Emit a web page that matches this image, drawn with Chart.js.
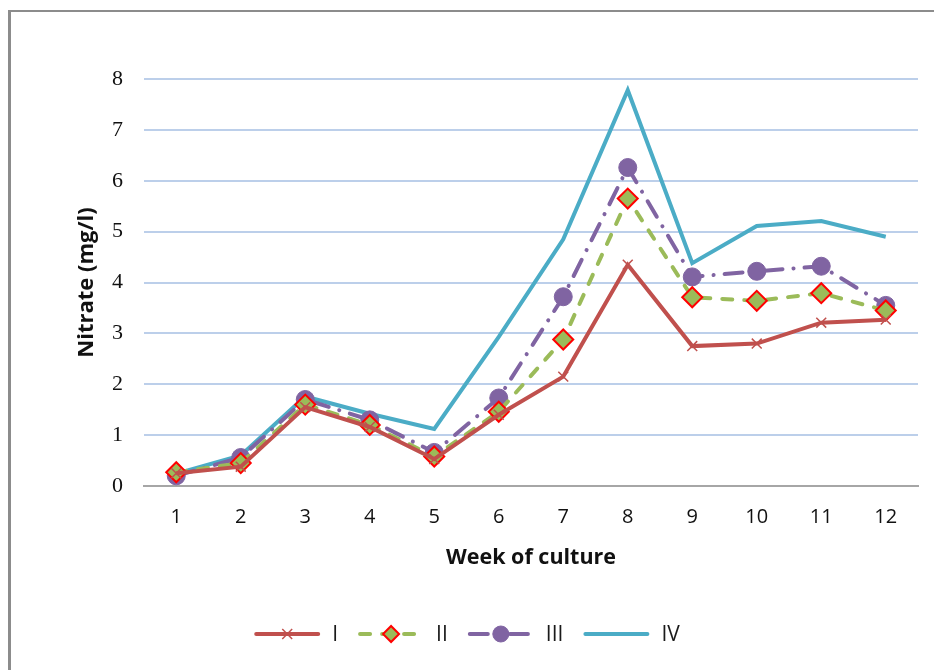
<!DOCTYPE html>
<html>
<head>
<meta charset="utf-8">
<script src="https://cdn.jsdelivr.net/npm/chart.js@4.4.1/dist/chart.umd.min.js"></script>
<style>
  html, body { margin: 0; padding: 0; background: #fff; overflow: hidden; }
  #wrap { position: relative; width: 934px; height: 670px; }
  #frame { position: absolute; left: 8px; top: 10px; width: 1000px; height: 1000px;
           border-left: 3px solid #8c8c8c; border-top: 2px solid #8c8c8c; box-sizing: border-box; }
  #c { position: absolute; left: 0; top: 0; }
</style>
</head>
<body>
<div id="wrap">
  <div id="frame"></div>
  <canvas id="c" width="934" height="670"></canvas>
</div>
<script>
// Weekly nitrate concentration (mg/l) for four culture treatments
const weeks = ['1', '2', '3', '4', '5', '6', '7', '8', '9', '10', '11', '12'];
const seriesI   = [0.25, 0.38, 1.55, 1.16, 0.53, 1.40, 2.15, 4.35, 2.75, 2.80, 3.21, 3.27];
const seriesII  = [0.27, 0.45, 1.60, 1.20, 0.58, 1.46, 2.88, 5.65, 3.71, 3.64, 3.79, 3.45];
const seriesIII = [0.20, 0.56, 1.70, 1.30, 0.66, 1.73, 3.72, 6.26, 4.11, 4.22, 4.32, 3.55];
const seriesIV  = [0.24, 0.60, 1.76, 1.42, 1.12, 2.93, 4.85, 7.78, 4.38, 5.11, 5.21, 4.90];
const yTicks = [0, 1, 2, 3, 4, 5, 6, 7, 8];

const RED = '#C0504D', GREEN = '#9BBB59', PURPLE = '#8064A2', TEAL = '#4BACC6';

const datasets = [
  { label: 'I', data: seriesI, borderColor: RED, backgroundColor: RED, borderWidth: 4,
    pointStyle: 'crossRot', pointRadius: 7, pointBorderWidth: 1.5, pointBorderColor: RED },
  { label: 'II', data: seriesII, borderColor: GREEN, backgroundColor: GREEN, borderWidth: 4,
    borderDash: [10, 12], borderCapStyle: 'round',
    pointStyle: 'rectRot', pointRadius: 10, pointBorderWidth: 2, pointBorderColor: '#FF0000',
    pointBackgroundColor: GREEN },
  { label: 'III', data: seriesIII, borderColor: PURPLE, backgroundColor: PURPLE, borderWidth: 4,
    borderDash: [18, 11, 0.1, 11], borderCapStyle: 'round',
    pointStyle: 'circle', pointRadius: 9, pointBorderWidth: 1, pointBorderColor: PURPLE,
    pointBackgroundColor: PURPLE },
  { label: 'IV', data: seriesIV, borderColor: TEAL, backgroundColor: TEAL, borderWidth: 4,
    pointRadius: 0, pointHoverRadius: 0 }
];
datasets.forEach(d => { d.tension = 0; d.fill = false; d.borderJoinStyle = 'miter'; });

// Legend drawn below the plot: a line sample with its marker, then the label
const lineLegend = {
  id: 'lineLegend',
  afterDraw(chart) {
    const ctx = chart.ctx;
    const y = 634, lineLen = 66, labelGap = 12, itemGap = 20;
    ctx.save();
    ctx.font = '21px "Open Sans", sans-serif';
    const items = chart.data.datasets.map(ds => ({ ds, w: ctx.measureText(ds.label).width }));
    const total = items.reduce((s, it) => s + lineLen + labelGap + it.w, 0) + itemGap * (items.length - 1);
    let x = (chart.width - total) / 2;
    items.forEach(({ ds, w }) => {
      ctx.save();
      ctx.strokeStyle = ds.borderColor;
      ctx.lineWidth = ds.borderWidth;
      ctx.lineCap = 'round';
      ctx.setLineDash(ds.borderDash || []);
      ctx.beginPath();
      ctx.moveTo(x + 2, y);
      ctx.lineTo(x + lineLen - 2, y);
      ctx.stroke();
      ctx.restore();
      if (ds.pointRadius > 0) {
        ctx.save();
        ctx.fillStyle = ds.pointBackgroundColor || ds.borderColor;
        ctx.strokeStyle = ds.pointBorderColor || ds.borderColor;
        ctx.lineWidth = ds.pointBorderWidth;
        Chart.helpers.drawPoint(ctx, {
          pointStyle: ds.pointStyle,
          radius: Math.min(ds.pointRadius, 8),
          borderWidth: ds.pointBorderWidth
        }, x + lineLen / 2, y);
        ctx.restore();
      }
      ctx.fillStyle = '#1a1a1a';
      ctx.textBaseline = 'middle';
      ctx.textAlign = 'left';
      ctx.fillText(ds.label, x + lineLen + labelGap, y + 1);
      x += lineLen + labelGap + w + itemGap;
    });
    ctx.restore();
  }
};

new Chart(document.getElementById('c'), {
  type: 'line',
  data: { labels: weeks, datasets },
  options: {
    responsive: false,
    animation: false,
    events: [],
    layout: { padding: { top: 79, right: 16, left: 0, bottom: 0 } },
    plugins: { legend: { display: false }, tooltip: { enabled: false } },
    scales: {
      x: {
        offset: true,
        grid: { display: false, drawTicks: false },
        border: { display: true, color: '#A6A6A6', width: 2 },
        ticks: { color: '#111', padding: 19, font: { family: '"Open Sans", sans-serif', size: 20 } },
        title: { display: true, text: 'Week of culture', color: '#111',
                 font: { family: '"Open Sans", sans-serif', size: 21.5, weight: 'bold' },
                 padding: { top: 0, bottom: 99 } },
        afterFit(scale) { scale.height = 184; }
      },
      y: {
        min: 0, max: 8,
        afterBuildTicks(scale) { scale.ticks = yTicks.map(v => ({ value: v })); },
        grid: { drawTicks: false, lineWidth: 2,
                color: c => (c.tick && c.tick.value === 0) ? 'rgba(0,0,0,0)' : '#BCCFEA' },
        border: { display: false },
        ticks: { color: '#111', padding: 21, font: { family: '"Liberation Serif", serif', size: 22 } },
        title: { display: true, text: 'Nitrate (mg/l)', color: '#111',
                 font: { family: '"Open Sans", sans-serif', size: 22, weight: 'bold' },
                 padding: { top: 74, bottom: 0 } },
        afterFit(scale) { scale.width = 144; }
      }
    }
  },
  plugins: [lineLegend]
});
</script>
</body>
</html>
